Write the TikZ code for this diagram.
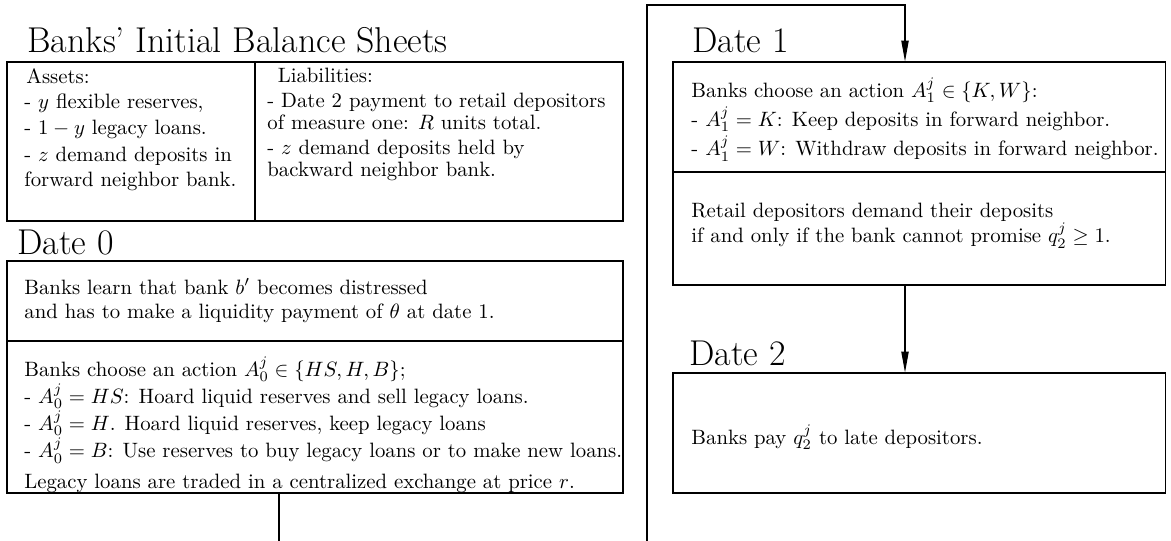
\documentclass[tikz,border=0pt]{standalone}
\usepackage{amsmath, amssymb}
\usetikzlibrary{positioning, fit, arrows.meta}

\tikzset{
	stage/.style={draw, line width=0.5pt, inner sep=0pt},
	stagetext/.style={anchor=north west, inner sep=0pt, align=left},
	datelabel/.style={anchor=base west, inner sep=0pt, font=\LARGE},
	flow/.style={line width=0.5pt, -{Triangle[length=10pt, width=3.5pt]}},
}

\begin{document}
\begin{tikzpicture}[x=0.4816pt, y=-0.4816pt]
	\useasboundingbox (0, 0) rectangle (1171, 540);
	% Headings:
	\node[datelabel] (title) at (27, 53) {Banks' Initial Balance Sheets};
	\node[datelabel] (date0) at (17, 254) {Date 0};
	\node[datelabel] (date1) at (692, 53) {Date 1};
	\node[datelabel] (date2) at (689, 365) {Date 2};
	% Boxes:
	\node[stage, fit={(7, 62) (255, 221)}] (assets) {};
	\node[stage, fit={(255, 62) (623, 221)}] (liab) {};
	\node[stage, fit={(7, 261) (623, 341)}] (d0a) {};
	\node[stage, fit={(7, 341) (623, 493)}] (d0b) {};
	\node[stage, fit={(673, 62) (1165, 172)}] (d1a) {};
	\node[stage, fit={(673, 172) (1165, 285)}] (d1b) {};
	\node[stage, fit={(673, 373) (1165, 493)}] (d2) {};
	% Texts:
	\node[stagetext] (assetstext) at (24, 68) {\hspace{1pt}Assets:\\
		- $y$ flexible reserves,\\[0.5pt]
		- $1-y$ legacy loans.\\[1pt]
		- $z$ demand deposits in\\
		forward neighbor bank.};
	\node[stagetext] (liabtext) at (267, 68) {\hspace{5pt}Liabilities:\\
		- Date 2 payment to retail depositors\\[-1.5pt]
		of measure one: $R$ units total.\\
		- $z$ demand deposits held by\\[-1.5pt]
		backward neighbor bank.};
	\node[stagetext] (d0atext) at (24, 278) {Banks learn that bank $b'$ becomes distressed\\
		and has to make a liquidity payment of $\theta$ at date 1.};
	\node[stagetext] (d0btext) at (24, 356) {Banks choose an action $A_0^j \in \{HS, H, B\}$;\\
		- $A_0^j = HS$: Hoard liquid reserves and sell legacy loans.\\
		- $A_0^j = H$. Hoard liquid reserves, keep legacy loans\\
		- $A_0^j = B$: Use reserves to buy legacy loans or to make new loans.\\[3pt]
		Legacy loans are traded in a centralized exchange at price $r$.};
	\node[stagetext] (d1atext) at (691, 77) {Banks choose an action $A_1^j \in \{K, W\}$:\\[1pt]
		- $A_1^j = K$: Keep deposits in forward neighbor.\\[1pt]
		- $A_1^j = W$: Withdraw deposits in forward neighbor.};
	\node[stagetext] (d1btext) at (691, 203) {Retail depositors demand their deposits\\
		if and only if the bank cannot promise $q_2^j \geq 1$.};
	\node[stagetext] (d2text) at (691, 424) {Banks pay $q_2^j$ to late depositors.};
	% Wires:
	\coordinate (drop) at (279, 0);
	\coordinate (rise) at (647, 0);
	\coordinate (feed) at (905, 0);
	\draw[flow] (d0b.south -| drop) -- ++(0, 120) -| (rise |- 0, 5) -| (d1a.north -| feed);
	\draw[flow] (d1b.south -| feed) -- (d2.north -| feed);
\end{tikzpicture}
\end{document}
